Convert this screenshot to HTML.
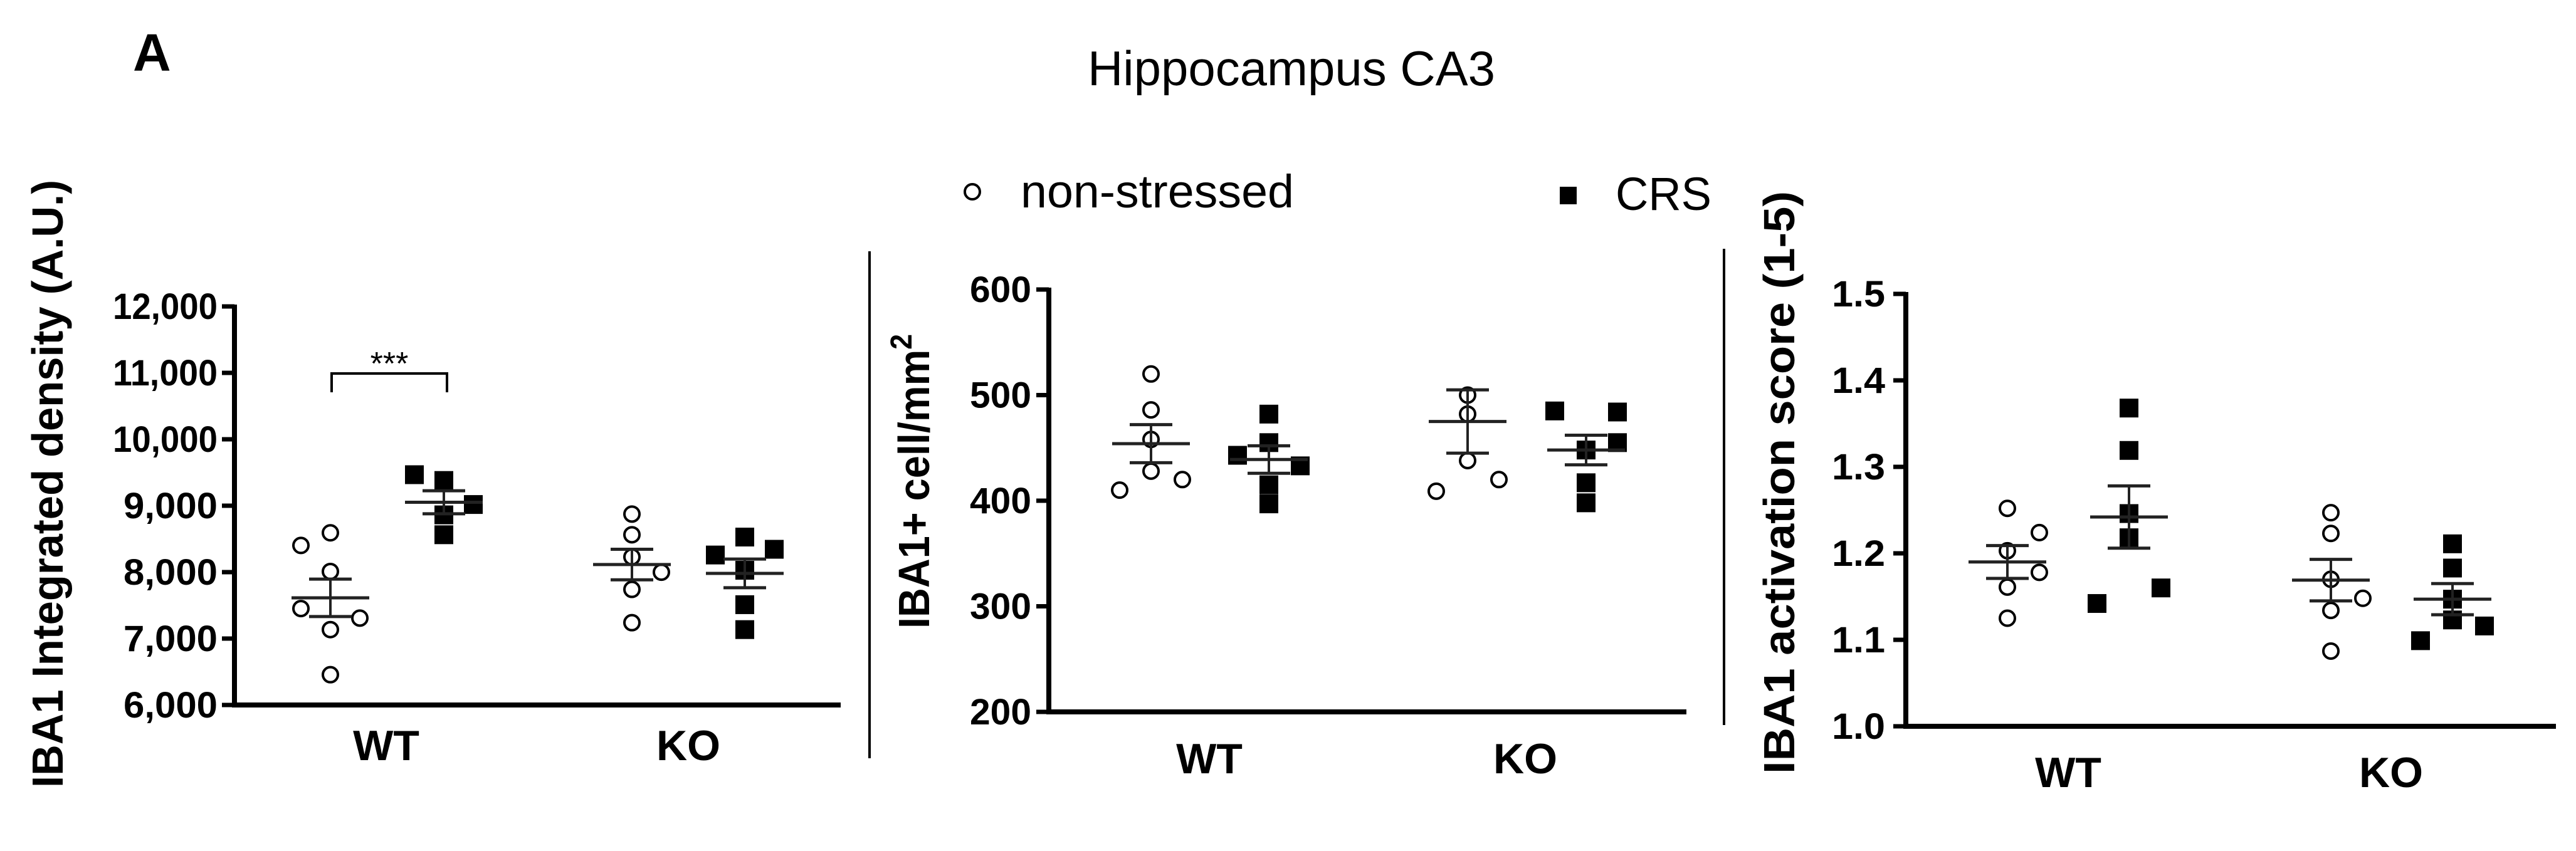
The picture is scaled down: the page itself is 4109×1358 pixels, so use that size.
<!DOCTYPE html>
<html><head><meta charset="utf-8">
<style>html,body{margin:0;padding:0;background:#fff}svg{display:block}</style>
</head><body>
<svg id="fig" width="4109" height="1358" viewBox="0 0 4109 1358" xmlns="http://www.w3.org/2000/svg" font-family="Liberation Sans, Arial, sans-serif">
<rect x="0" y="0" width="4109" height="1358" fill="#fff"/>
<text x="212" y="113" font-size="84" font-weight="bold">A</text>
<text x="1735" y="136" font-size="78" textLength="650" lengthAdjust="spacingAndGlyphs">Hippocampus CA3</text>
<g>
  <circle cx="1551" cy="306" r="12" fill="#fff" stroke="#000" stroke-width="4"/>
  <text x="1628" y="331" font-size="74" textLength="436" lengthAdjust="spacingAndGlyphs">non-stressed</text>
  <rect x="2488" y="298" width="27" height="28" fill="#000"/>
  <text x="2577" y="335" font-size="74" textLength="153" lengthAdjust="spacingAndGlyphs">CRS</text>
</g>
<line x1="1387" y1="401" x2="1387" y2="1210" stroke="#000" stroke-width="4"/>
<line x1="2750" y1="397" x2="2750" y2="1157" stroke="#000" stroke-width="4"/>
<g id="charts"></g>
</svg>
<script>
// ----- Data: panel 1 (integrated density) -----
const groups = ["WT", "KO"];
const p1Ticks = [6000, 7000, 8000, 9000, 10000, 11000, 12000];
const p1TickLabels = ["6,000", "7,000", "8,000", "9,000", "10,000", "11,000", "12,000"];
const p1WtNS = [8402, 8592, 8010, 7452, 7308, 7135, 6456];
const p1WtCRS = [9467, 9380, 9018, 8862, 8563];
const p1KoNS = [8874, 8563, 8229, 7999, 7740, 7239];
const p1KoCRS = [8528, 8258, 8344, 8028, 7510, 7135];
const p1Means = [7613, 9052, 8114, 7981];
const p1Sems = [282, 173, 230, 216];
// ----- Data: panel 2 (cells/mm2) -----
const p2Ticks = [200, 300, 400, 500, 600];
const p2TickLabels = ["200", "300", "400", "500", "600"];
const p2WtNS = [520, 486, 458, 428, 410, 420];
const p2WtCRS = [482, 443, 455, 433, 415, 397];
const p2KoNS = [500, 482, 438, 420, 409];
const p2KoCRS = [485, 484, 455, 448, 417, 398];
const p2Means = [454, 439, 475, 448];
const p2Sems = [18, 13, 30, 14];
// ----- Data: panel 3 (activation score) -----
const p3Ticks = [1.0, 1.1, 1.2, 1.3, 1.4, 1.5];
const p3TickLabels = ["1.0", "1.1", "1.2", "1.3", "1.4", "1.5"];
const p3WtNS = [1.252, 1.224, 1.203, 1.178, 1.161, 1.125];
const p3WtCRS = [1.368, 1.319, 1.246, 1.218, 1.160, 1.142];
const p3KoNS = [1.247, 1.223, 1.170, 1.148, 1.134, 1.087];
const p3KoCRS = [1.211, 1.183, 1.147, 1.123, 1.116, 1.099];
const p3Means = [1.190, 1.242, 1.169, 1.147];
const p3Sems = [0.019, 0.036, 0.024, 0.018];

// jitter slots (layout only)
const j1 = {wn:[-1,0,0,-1,1,0,0], wc:[-1,0,1,0,0], kn:[0,0,0,1,0,0], kc:[0,-1,1,0,0,0]};
const j2 = {wn:[0,0,0,0,-1,1], wc:[0,-1,0,1,0,0], kn:[0,0,0,1,-1], kc:[-1,1,1,0,0,0]};
const j3 = {wn:[0,1,0,1,0,0], wc:[0,0,0,0,1,-1], kn:[0,0,0,1,0,0], kc:[0,0,0,0,1,-1]};

const NS = "http://www.w3.org/2000/svg";
const root = document.getElementById("charts");
function mk(tag, attrs, parent) {
  const e = document.createElementNS(NS, tag);
  for (const k in attrs) e.setAttribute(k, attrs[k]);
  (parent || root).appendChild(e);
  return e;
}

function panel(cfg) {
  const g = mk("g", {});
  
  
  const yMin = cfg.ticks[0], yMax = cfg.ticks[cfg.ticks.length-1];
  const y = v => cfg.yBot - (v - yMin) / (yMax - yMin) * (cfg.yBot - cfg.yTop);
  const ya = mk("line", {x1:cfg.ax, y1:y(yMax)-3, x2:cfg.ax, y2:cfg.yBot+4, stroke:"#000", "stroke-width":8}, g);
  
  
  const xa = mk("line", {x1:cfg.ax-4, y1:cfg.yBot, x2:cfg.xEnd, y2:cfg.yBot, stroke:"#000", "stroke-width":8}, g);
  
  
  cfg.ticks.forEach((t,i) => {
    const tk = mk("line", {x1:cfg.ax-20, y1:y(t), x2:cfg.ax, y2:y(t), stroke:"#000", "stroke-width":7}, g);
    
    
    const tl = mk("text", {x:cfg.labR, y:y(t)+20, "font-size":58, "font-weight":"bold", "text-anchor":"end", textLength:cfg.tickW[i], lengthAdjust:"spacingAndGlyphs"}, g);
    tl.textContent = cfg.tickLabels[i];
    
    
  });
  const yt = mk("text", {x:0, y:0, "font-size":70, "font-weight":"bold", "text-anchor":"middle", transform:`translate(${cfg.titleX},${cfg.titleY}) rotate(-90)`, textLength:cfg.titleLen, lengthAdjust:"spacingAndGlyphs"}, g);
  yt.textContent = cfg.title;
  if (cfg.sup) { const s = mk("tspan", {dy:-28, "font-size":48}, yt); s.textContent = cfg.sup; }
  
  
  groups.forEach((gn,i) => {
    const gl = mk("text", {x:cfg.groupX[i], y:cfg.labY, "font-size":68, "font-weight":"bold", "text-anchor":"middle"}, g);
    gl.textContent = gn;
    
    
  });
  cfg.series.forEach((s, si) => {
    const sg = mk("g", {}, g);
    
    
    s.vals.forEach((v,i) => {
      const cx = s.cx + s.jit[i] * cfg.step;
      let m;
      if (s.filled) {
        m = mk("rect", {x:cx-15, y:y(v)-15, width:30, height:30, fill:"#000"}, sg);
      } else {
        m = mk("circle", {cx:cx, cy:y(v), r:12, fill:"none", stroke:"#000", "stroke-width":4}, sg);
      }
      
      
    });
    const mu = cfg.means[si], se = cfg.sems[si];
    const ml = mk("line", {x1:s.cx-62, y1:y(mu), x2:s.cx+62, y2:y(mu), stroke:"#222", "stroke-width":5}, sg);
    
    
    const ev = mk("line", {x1:s.cx, y1:y(mu+se), x2:s.cx, y2:y(mu-se), stroke:"#222", "stroke-width":4}, sg);
    
    
    [mu+se, mu-se].forEach(c => {
      const cp = mk("line", {x1:s.cx-34, y1:y(c), x2:s.cx+34, y2:y(c), stroke:"#222", "stroke-width":5}, sg);
      
      
    });
  });
  return {g, y};
}

const P1 = panel({name:"panel-integrated-density", ax:374, xEnd:1341, yTop:489, yBot:1125, ticks:p1Ticks, tickLabels:p1TickLabels,
  tickW:[150,150,150,150,167,167,167], labR:347, titleX:100, titleY:772, titleLen:970, title:"IBA1 Integrated density (A.U.)",
  groupX:[616,1098], labY:1213, step:47, means:p1Means, sems:p1Sems,
  series:[{name:"wt-non-stressed", cx:527, vals:p1WtNS, jit:j1.wn, filled:false},
          {name:"wt-crs", cx:708, vals:p1WtCRS, jit:j1.wc, filled:true},
          {name:"ko-non-stressed", cx:1008, vals:p1KoNS, jit:j1.kn, filled:false},
          {name:"ko-crs", cx:1188, vals:p1KoCRS, jit:j1.kc, filled:true}]});
const br = mk("path", {d:"M529,626 V596 H713 V626", fill:"none", stroke:"#000", "stroke-width":4}, P1.g);


const st = mk("text", {x:621, y:598, "font-size":52, "text-anchor":"middle"}, P1.g);
st.textContent = "***";



panel({name:"panel-cell-density", ax:1673, xEnd:2690, yTop:462, yBot:1136, ticks:p2Ticks, tickLabels:p2TickLabels,
  tickW:[98,98,98,98,98], labR:1645, titleX:1482, titleY:768, titleLen:470, title:"IBA1+ cell/mm", sup:"2",
  groupX:[1929,2433], labY:1234, step:50, means:p2Means, sems:p2Sems,
  series:[{name:"wt-non-stressed", cx:1836, vals:p2WtNS, jit:j2.wn, filled:false},
          {name:"wt-crs", cx:2024, vals:p2WtCRS, jit:j2.wc, filled:true},
          {name:"ko-non-stressed", cx:2341, vals:p2KoNS, jit:j2.kn, filled:false},
          {name:"ko-crs", cx:2530, vals:p2KoCRS, jit:j2.kc, filled:true}]});

panel({name:"panel-activation-score", ax:3040, xEnd:4077, yTop:469, yBot:1159, ticks:p3Ticks, tickLabels:p3TickLabels,
  tickW:[85,85,85,85,85,85], labR:3007, titleX:2862, titleY:770, titleLen:930, title:"IBA1 activation score (1-5)",
  groupX:[3299,3814], labY:1256, step:51, means:p3Means, sems:p3Sems,
  series:[{name:"wt-non-stressed", cx:3202, vals:p3WtNS, jit:j3.wn, filled:false},
          {name:"wt-crs", cx:3396, vals:p3WtCRS, jit:j3.wc, filled:true},
          {name:"ko-non-stressed", cx:3718, vals:p3KoNS, jit:j3.kn, filled:false},
          {name:"ko-crs", cx:3912, vals:p3KoCRS, jit:j3.kc, filled:true}]});
</script>
</body></html>
